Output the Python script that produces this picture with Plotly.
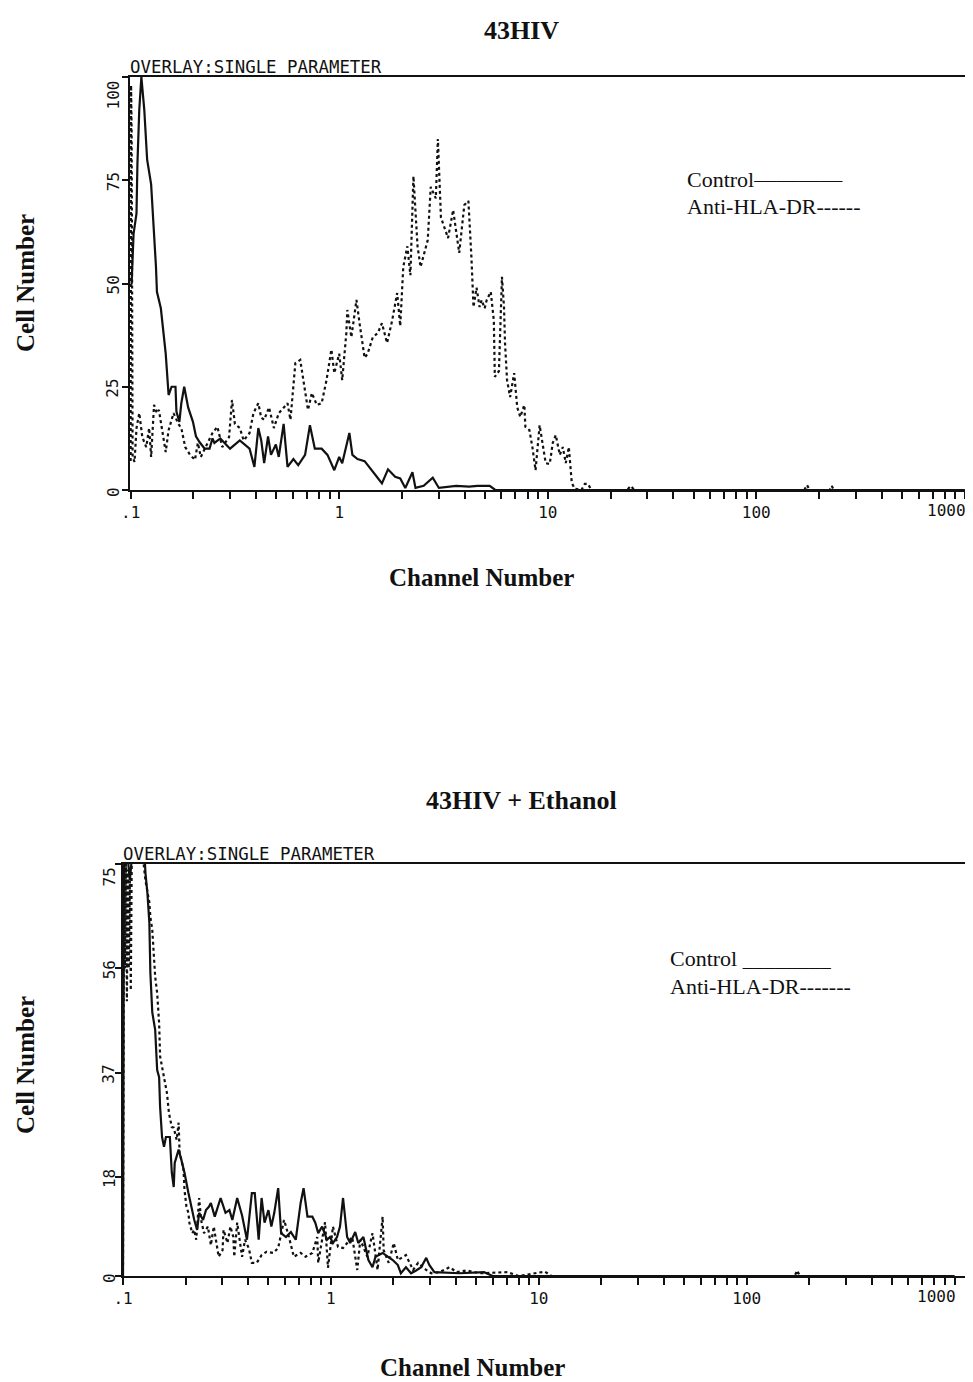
import numpy as np
import plotly.graph_objects as go

# ---------------- data (channel number, cell number) ----------------
# Panel 1: 43HIV
top_ctrl_x = [0.1, 0.1011, 0.1033, 0.1067, 0.1078, 0.110, 0.1126, 0.1163, 0.120, 0.1254,
              0.1323, 0.1337, 0.1396, 0.1473, 0.1521, 0.1572, 0.1641, 0.1658, 0.1713, 0.175,
              0.1807, 0.1887, 0.199, 0.2057, 0.2147, 0.2265, 0.239, 0.2469, 0.2522, 0.2692,
              0.2997, 0.3338, 0.3717, 0.3922, 0.4095, 0.4229, 0.4368, 0.456, 0.471, 0.497,
              0.5132, 0.5415, 0.5654, 0.6031, 0.6364, 0.6862, 0.724, 0.7642, 0.8239, 0.8788,
              0.9476, 1.0, 1.034, 1.119, 1.157, 1.224, 1.324, 1.401, 1.515, 1.603,
              1.714, 1.855, 1.962, 2.075, 2.245, 2.322, 2.541, 2.81, 3.006, 3.639,
              4.2, 4.6, 5.272, 5.6, 1000]
top_ctrl_y = [50, 50, 62, 67, 79, 92, 100, 92, 80, 74,
              54, 48, 44, 33, 23, 25, 25, 19, 16.5, 21,
              25, 20, 16.5, 13, 11.5, 10, 10, 12.5, 11.4, 12.5,
              10, 12, 10, 5.6, 15, 12, 6.5, 13, 8.5, 11,
              8, 16, 5.6, 7.5, 6, 8.5, 15.7, 10, 10, 8.5,
              4.8, 8, 6.5, 13.8, 8.5, 7.5, 7, 5.5, 3.2, 1.6,
              5, 3.2, 2.8, 0.5, 4.3, 0.5, 1, 3, 0.5, 1,
              0.8, 1, 1, 0, 0]

top_anti_x = [0.1, 0.1005, 0.1011, 0.1022, 0.1044, 0.1067, 0.110, 0.1138, 0.1188, 0.1227,
              0.1254, 0.1295, 0.1337, 0.1366, 0.1442, 0.1473, 0.1521, 0.1606, 0.1694, 0.175,
              0.1827, 0.1928, 0.2034, 0.2101, 0.217, 0.2339, 0.2469, 0.2606, 0.275, 0.2965,
              0.3062, 0.3162, 0.3338, 0.3484, 0.3717, 0.388, 0.4095, 0.4229, 0.4368, 0.4609,
              0.4863, 0.5132, 0.5415, 0.5654, 0.5839, 0.6163, 0.6504, 0.6715, 0.7087, 0.74,
              0.7808, 0.8239, 0.8695, 0.9175, 0.9476, 1.0, 1.034, 1.082, 1.094, 1.144,
              1.21, 1.252, 1.324, 1.369, 1.449, 1.532, 1.603, 1.696, 1.794, 1.897,
              1.962, 2.029, 2.122, 2.195, 2.27, 2.375, 2.456, 2.658, 2.748, 2.906,
              2.973, 3.075, 3.327, 3.518, 3.763, 3.981, 4.164, 4.305, 4.405, 4.556,
              4.712, 4.819, 4.984, 5.097, 5.331, 5.514, 5.576, 5.834, 6.032, 6.169,
              6.239, 6.381, 6.6, 6.902, 7.141, 7.385, 7.724, 7.811, 8.17, 8.45,
              8.74, 9.142, 9.454, 9.777, 10.22, 10.57, 10.93, 11.42, 11.81, 12.2,
              12.62, 12.9, 13.04, 13.48, 14.5, 15.06, 15.57, 16.2, 24, 25,
              26, 170, 175, 180, 225, 230, 235, 1000]
top_anti_y = [7, 98, 87, 8, 6.8, 15, 18.6, 12.8, 10.4, 15,
              8, 20.6, 18.6, 19.4, 12, 9.2, 14.5, 18.6, 16, 15,
              10.4, 8.5, 7.3, 11.4, 8, 11.4, 13.8, 15.3, 10.4, 12.8,
              21.8, 16, 15, 12, 13.8, 18.6, 21, 17.5, 17, 20,
              15, 18.6, 20, 21, 17, 30.7, 31.5, 26.6, 19.4, 23.5,
              20.6, 21, 26.6, 34, 28.3, 33, 26.6, 38, 43.6, 37,
              46, 40.4, 32, 33, 37, 38, 40.4, 35.6, 41, 47.7,
              39.7, 54, 59, 52, 76, 59, 54, 60.5, 73.4, 70.6,
              85, 66, 61, 67.8, 57.4, 69, 70, 56.4, 44.3, 49,
              44.3, 46, 44, 46, 48, 41, 27.4, 28.8, 51.6, 44.3,
              35.6, 26.6, 22.5, 28.3, 20, 17.7, 20.6, 15.3, 14.5, 10.2,
              4.8, 15.7, 11, 6.5, 6.3, 11.4, 13.3, 8.5, 10.4, 6.5,
              10.4, 5.6, 1.7, 0.3, 0, 1.5, 1.5, 0, 0, 1,
              0, 0, 1.2, 0, 0, 1, 0, 0]

# Panel 2: 43HIV + Ethanol
bot_ctrl_x = [0.1, 0.1011, 0.1055, 0.1079, 0.1102, 0.1138, 0.1268, 0.1282, 0.131, 0.1339,
              0.1354, 0.1383, 0.1428, 0.146, 0.1492, 0.1508, 0.1541, 0.1575, 0.1609, 0.168,
              0.1717, 0.1754, 0.1773, 0.1852, 0.1913, 0.1976, 0.2064, 0.2132, 0.2202, 0.2274,
              0.2324, 0.2427, 0.2507, 0.2589, 0.2646, 0.2763, 0.2948, 0.3112, 0.325, 0.3357,
              0.3542, 0.3739, 0.3947, 0.4166, 0.4303, 0.4494, 0.4642, 0.4795, 0.5006, 0.5171,
              0.5341, 0.5577, 0.5762, 0.6081, 0.642, 0.6776, 0.7153, 0.7388, 0.7715, 0.8142,
              0.8412, 0.869, 0.9074, 0.9577, 0.9893, 1.023, 1.07, 1.106, 1.144, 1.197,
              1.238, 1.309, 1.354, 1.433, 1.515, 1.585, 1.639, 1.773, 1.876, 1.984,
              2.099, 2.17, 2.296, 2.429, 2.57, 2.718, 2.874, 2.973, 3.145, 3.722,
              4.164, 5.453, 6.0, 1000]
bot_ctrl_y = [0, 76, 76, 72, 76, 77, 77, 73.4, 69.8, 64.3,
              55.2, 48, 44.8, 37.5, 36.2, 30.8, 25.3, 23.5, 25.3, 25.3,
              18.8, 16.2, 20.6, 23, 21, 18.8, 15.1, 12.6, 10.2, 8.4,
              11.5, 10.2, 12, 12.6, 13.3, 10.8, 14.2, 11.5, 12, 10.2,
              14.2, 11, 6.6, 15.1, 15.1, 6.6, 14.2, 9.7, 12, 9,
              11.5, 16, 7.8, 7.1, 8, 6.6, 13.3, 16, 10.8, 10.8,
              9.7, 7.8, 9, 6.6, 7.1, 6, 7.1, 9, 14.2, 7.1,
              6, 8, 6, 7.1, 2.9, 1.6, 3.5, 4.2, 3.5, 2.9,
              2, 0.5, 1.6, 0.5, 1, 1.6, 3.3, 2, 0.7, 0.5,
              0.5, 0.7, 0, 0]

bot_anti_x = [0.1, 0.1011, 0.1022, 0.1033, 0.1044, 0.1055, 0.1066, 0.1079, 0.109, 0.1102,
              0.1138, 0.1163, 0.1241, 0.1282, 0.1339, 0.1354, 0.1383, 0.1413, 0.1428, 0.146,
              0.1492, 0.1508, 0.1592, 0.1627, 0.1663, 0.1717, 0.1754, 0.1812, 0.1852, 0.1872,
              0.1913, 0.1955, 0.1976, 0.2019, 0.2064, 0.2086, 0.2154, 0.2202, 0.225, 0.2324,
              0.2375, 0.2453, 0.2561, 0.2646, 0.2733, 0.2854, 0.2885, 0.3012, 0.3045, 0.318,
              0.3285, 0.3393, 0.3429, 0.3542, 0.3739, 0.3863, 0.4033, 0.4166, 0.4398, 0.4642,
              0.4898, 0.5284, 0.5577, 0.5952, 0.6283, 0.6632, 0.7153, 0.755, 0.8142, 0.8597,
              0.869, 0.9371, 0.9681, 1.023, 1.082, 1.144, 1.266, 1.339, 1.385, 1.498,
              1.585, 1.677, 1.773, 1.794, 1.897, 2.006, 2.099, 2.296, 2.484, 2.628,
              2.874, 3.04, 3.327, 3.722, 4.027, 4.505, 5.213, 7.062, 8.0, 10.7,
              11.5, 170, 175, 180, 1000]
bot_anti_y = [2, 76, 56, 75, 50, 74, 56, 72, 52, 76,
              77, 76, 77, 72, 68, 65.4, 63, 58, 54.5, 51.5,
              46, 40, 35.7, 33.3, 29.7, 27.1, 27, 24.8, 27.9, 22.4,
              21, 19.3, 15.7, 12.6, 11.5, 9.7, 7.8, 8.4, 6.6, 14.2,
              10.2, 7.8, 9, 5.6, 9, 4.2, 3.5, 4.7, 8.4, 6,
              9, 7.1, 3.5, 9.7, 3.5, 6.6, 5, 2.4, 2.4, 3.8,
              4.4, 4.2, 5.1, 10.2, 7.1, 3.5, 4.2, 3.5, 4.2, 7.1,
              2.4, 9.8, 1.5, 9, 5.3, 5.1, 7.1, 1.1, 6.6, 3.5,
              7.8, 1.1, 10.8, 4.7, 2.4, 6, 2.9, 3.8, 1.1, 2.4,
              1.1, 0.5, 0.7, 1.6, 0.7, 1, 0.5, 0.7, 0, 0.8,
              0, 0, 1, 0, 0]

# ---------------- axis tick definitions ----------------
decades = [0.1, 1, 10, 100, 1000]
decade_labels = [".1", "1", "10", "100", "1000"]
minor_mult = [2, 3, 4, 5, 6, 7, 8, 9]
top_yticks = [0, 25, 50, 75, 100]
bot_yticks = [0, 18, 37, 56, 75]

series_names = ["Control", "Anti-HLA-DR"]
panel_titles = ["43HIV", "43HIV + Ethanol"]

# ---------------- figure ----------------
W, H = 973, 1382
PAGE_OFF = 8          # the page body places the figure 8px from the top-left corner
BLACK = "#111111"
MONO = "DejaVu Sans Mono"
SERIF = "Liberation Serif"

fig = go.Figure()
solid = dict(color=BLACK, width=2.2)
dotted = dict(color=BLACK, width=2.2, dash="dot")

fig.add_trace(go.Scatter(x=top_ctrl_x, y=top_ctrl_y, mode="lines", line=solid,
                         name=series_names[0], xaxis="x", yaxis="y"))
fig.add_trace(go.Scatter(x=top_anti_x, y=top_anti_y, mode="lines", line=dotted,
                         name=series_names[1], xaxis="x", yaxis="y"))
fig.add_trace(go.Scatter(x=bot_ctrl_x, y=bot_ctrl_y, mode="lines", line=solid,
                         name=series_names[0], xaxis="x2", yaxis="y2"))
fig.add_trace(go.Scatter(x=bot_anti_x, y=bot_anti_y, mode="lines", line=dotted,
                         name=series_names[1], xaxis="x2", yaxis="y2"))

tickvals = []
ticktext = []
for i, d in enumerate(decades):
    tickvals.append(d)
    ticktext.append(decade_labels[i] if d < 1000 else "")
    if d < 1000:
        for m in minor_mult:
            tickvals.append(d * m)
            ticktext.append("")


def px_x(p):
    return (p - PAGE_OFF) / W


def px_y(p):
    return 1 - (p - PAGE_OFF) / H


tick_font = dict(family=MONO, size=16, color=BLACK)
xcommon = dict(type="log", showgrid=False, zeroline=False, showline=True, mirror=True,
               linecolor=BLACK, linewidth=2, ticks="outside", ticklen=7, tickwidth=2,
               tickcolor=BLACK, tickmode="array", tickvals=tickvals, ticktext=ticktext,
               tickfont=tick_font, fixedrange=True)
ycommon = dict(showgrid=False, zeroline=False, showline=True, mirror=True,
               linecolor=BLACK, linewidth=2, ticks="outside", ticklen=6, tickwidth=2,
               tickcolor=BLACK, tickmode="array", showticklabels=False, fixedrange=True)

fig.update_layout(
    width=W, height=H,
    margin=dict(l=0, r=0, t=0, b=0, pad=0, autoexpand=False),
    paper_bgcolor="white", plot_bgcolor="white",
    showlegend=False,
    xaxis=dict(xcommon, domain=[px_x(130), px_x(968)], range=[-1.003, 3.015], anchor="y"),
    yaxis=dict(ycommon, domain=[px_y(490), px_y(77)], range=[0, 100], tickvals=top_yticks,
               anchor="x"),
    xaxis2=dict(xcommon, domain=[px_x(123), px_x(965)], range=[-1.0, 3.05], anchor="y2"),
    yaxis2=dict(ycommon, domain=[px_y(1276), px_y(864)], range=[0, 75], tickvals=bot_yticks,
                anchor="x2"),
)

ann = []


def note(text, x, y, xref="paper", yref="paper", xanchor="center", yanchor="middle",
         font=None, **kw):
    d = dict(text=text, x=x, y=y, xref=xref, yref=yref, xanchor=xanchor,
             yanchor=yanchor, showarrow=False, font=font)
    d.update(kw)
    ann.append(d)


# y tick labels (rotated)
for yref, ticks, xpos in (("y", top_yticks, 113), ("y2", bot_yticks, 109)):
    for i, v in enumerate(ticks):
        top = i == len(ticks) - 1
        note(str(v), px_x(xpos), v, yref=yref, yanchor="top" if top else "middle",
             yshift=-2, textangle=-90, font=tick_font)
# "1000" label kept inside the frame
for xref, yref in (("x", "y"), ("x2", "y2")):
    note(decade_labels[-1], np.log10(decades[-1]), 0, xref=xref, yref=yref,
         xanchor="right", yanchor="top", yshift=-9, xshift=3, font=tick_font)

# header above each frame
for xp, yp in ((128, 77), (121, 864)):
    note("OVERLAY:SINGLE PARAMETER", px_x(xp), px_y(yp), xanchor="left", yanchor="bottom",
         yshift=-2, font=dict(family=MONO, size=17.4, color=BLACK))

# titles
title_font = dict(family=SERIF, size=26, color=BLACK)
axis_font = dict(family=SERIF, size=25, color=BLACK)
note("<b>%s</b>" % panel_titles[0], px_x(521), px_y(30), font=title_font)
note("<b>%s</b>" % panel_titles[1], px_x(521), px_y(800), font=title_font)
note("<b>Channel Number</b>", px_x(481), px_y(577), font=axis_font)
note("<b>Channel Number</b>", px_x(472), px_y(1367), font=axis_font)
note("<b>Cell Number</b>", px_x(25), px_y(283), textangle=-90, font=axis_font)
note("<b>Cell Number</b>", px_x(25), px_y(1065), textangle=-90, font=axis_font)

# in-plot key text
key_font = dict(family=SERIF, size=22, color=BLACK)
note(series_names[0] + "\u2014\u2014\u2014\u2014", px_x(685), px_y(179), xanchor="left",
     font=key_font)
note(series_names[1] + "------", px_x(685), px_y(207), xanchor="left", font=key_font)
note(series_names[0] + " ________", px_x(668), px_y(958), xanchor="left", font=key_font)
note(series_names[1] + "-------", px_x(668), px_y(987), xanchor="left", font=key_font)

fig.update_layout(annotations=ann)
fig.write_html("out.html")
